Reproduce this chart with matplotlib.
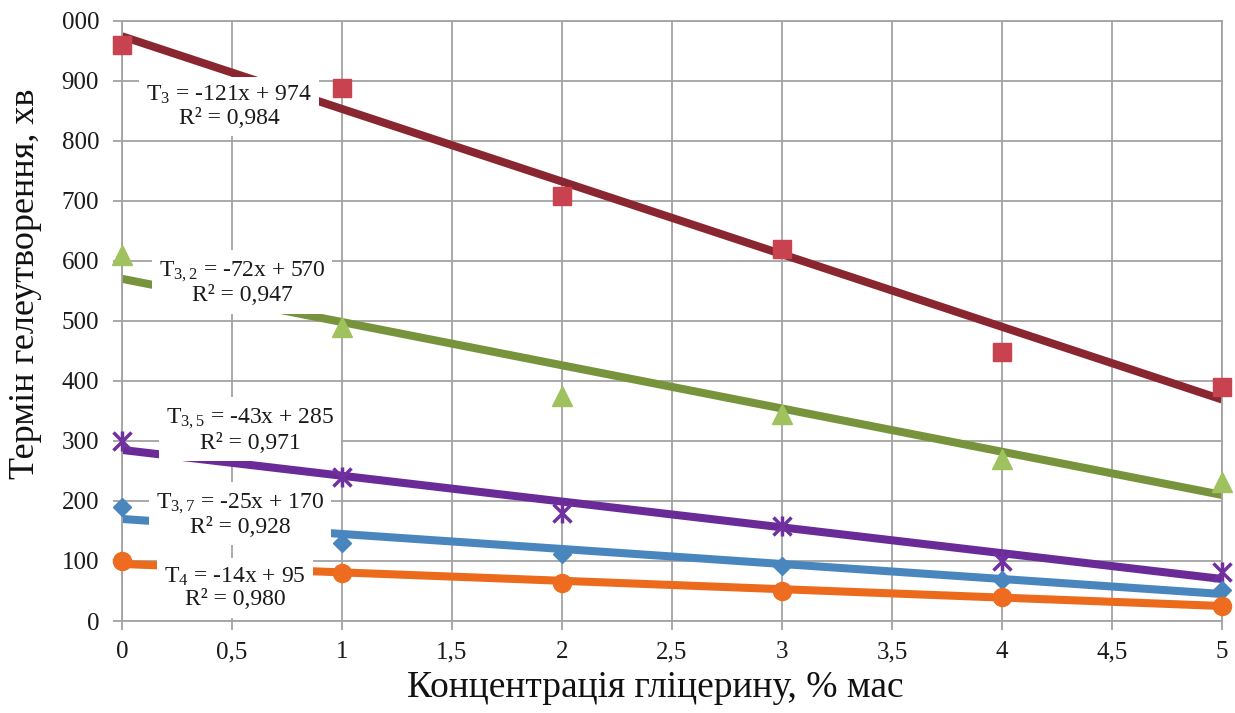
import numpy as np
import matplotlib.pyplot as plt

plt.rcParams['font.family'] = ['Liberation Serif', 'DejaVu Serif']
plt.rcParams['mathtext.fontset'] = 'custom'
plt.rcParams['mathtext.rm'] = 'Liberation Serif'
plt.rcParams['mathtext.it'] = 'Liberation Serif:italic'
plt.rcParams['mathtext.bf'] = 'Liberation Serif:bold'

# glycerol concentration, % mass
conc = [0, 1, 2, 3, 4, 5]

# gel time, min
t_3 = [960, 888, 708, 620, 448, 390]
t_32 = [610, 490, 375, 345, 270, 232]
t_35 = [300, 240, 180, 158, 100, 82]
t_37 = [190, 130, 112, 92, 68, 52]
t_4 = [100, 80, 63, 50, 40, 25]

# trendline coefficients as printed on the chart
slopes = [-121, -72, -43, -25, -14]
intercepts = [974, 570, 285, 170, 95]
eq_labels = [
    'T$_{3}$ = -121x + 974\nR² = 0,984',
    'T$_{3,2}$ = -72x + 570\nR² = 0,947',
    'T$_{3,5}$ = -43x + 285\nR² = 0,971',
    'T$_{3,7}$ = -25x + 170\nR² = 0,928',
    'T$_{4}$ = -14x + 95\nR² = 0,980',
]

x_ticks = [0, 0.5, 1, 1.5, 2, 2.5, 3, 3.5, 4, 4.5, 5]
x_tick_labels = ['0', '0,5', '1', '1,5', '2', '2,5', '3', '3,5', '4', '4,5', '5']
y_ticks = [0, 100, 200, 300, 400, 500, 600, 700, 800, 900, 1000]
y_tick_labels = ['0', '100', '200', '300', '400', '500', '600', '700', '800', '900', '000']

series = [t_3, t_32, t_35, t_37, t_4]
marker_colors = ['#c8424f', '#a0c25e', '#7030a0', '#4a86be', '#ee6c1f']
line_colors = ['#892630', '#77933c', '#6a2a98', '#4a86be', '#ec6a1c']
# where the equation boxes sit (data coords)
label_pos = [(0.486, 857), (0.545, 563), (0.582, 318), (0.536, 177), (0.514, 55)]

fig = plt.figure(figsize=(12.35, 7.13), dpi=100)
ax = fig.add_axes([0.0988, 0.129, 0.8907, 0.842])

grid_color = '#a3a3a3'
ax.set_xlim(0, 5)
ax.set_ylim(0, 1000)
ax.set_xticks(x_ticks)
ax.set_xticklabels(x_tick_labels)
ax.set_yticks(y_ticks)
ax.set_yticklabels(y_tick_labels)
ax.grid(True, color=grid_color, linewidth=1.3, zorder=0)
ax.set_axisbelow(True)
for s in ax.spines.values():
    s.set_color(grid_color)
    s.set_linewidth(1.3)
ax.tick_params(axis='both', colors=grid_color, labelcolor='#1a1a1a',
               length=6.5, width=1.3, labelsize=18)
ax.tick_params(axis='y', pad=10)
ax.tick_params(axis='x', pad=8)

# trendlines
for m, b, c in zip(slopes, intercepts, line_colors):
    ax.axline((0, b), slope=m, color=c, linewidth=5.8, solid_capstyle='butt', zorder=2)

# equation boxes
for txt, (lx, ly) in zip(eq_labels, label_pos):
    ax.text(lx, ly, txt, ha='center', va='center', multialignment='center',
            fontsize=17, color='#1a1a1a', linespacing=1.1, zorder=3,
            bbox=dict(boxstyle='square,pad=0.3', facecolor='white', edgecolor='none'))

# data markers
ax.plot(conc, t_3, linestyle='none', marker='s', markersize=13.5,
        color=marker_colors[0], clip_on=False, zorder=4)
ax.plot(conc, t_32, linestyle='none', marker='^', markersize=14,
        color=marker_colors[1], clip_on=False, zorder=4)
ax.plot(conc, t_35, linestyle='none', marker='x', markersize=13,
        markeredgewidth=2.5, color=marker_colors[2], clip_on=False, zorder=4)
ax.plot(conc, t_35, linestyle='none', marker='|', markersize=15,
        markeredgewidth=2.5, color=marker_colors[2], clip_on=False, zorder=4)
ax.plot(conc, t_37, linestyle='none', marker='D', markersize=9,
        color=marker_colors[3], clip_on=False, zorder=4)
ax.plot(conc, t_4, linestyle='none', marker='o', markersize=13,
        color=marker_colors[4], clip_on=False, zorder=4)

fig.text(0.531, 0.0224, 'Концентрація гліцерину, % мас', ha='center', va='baseline',
         fontsize=27, color='#111111')
fig.text(0.021, 0.602, 'Термін гелеутворення, хв', ha='center', va='center',
         rotation=90, fontsize=26, color='#111111')

fig.savefig('out.png', dpi=100, facecolor='white')
